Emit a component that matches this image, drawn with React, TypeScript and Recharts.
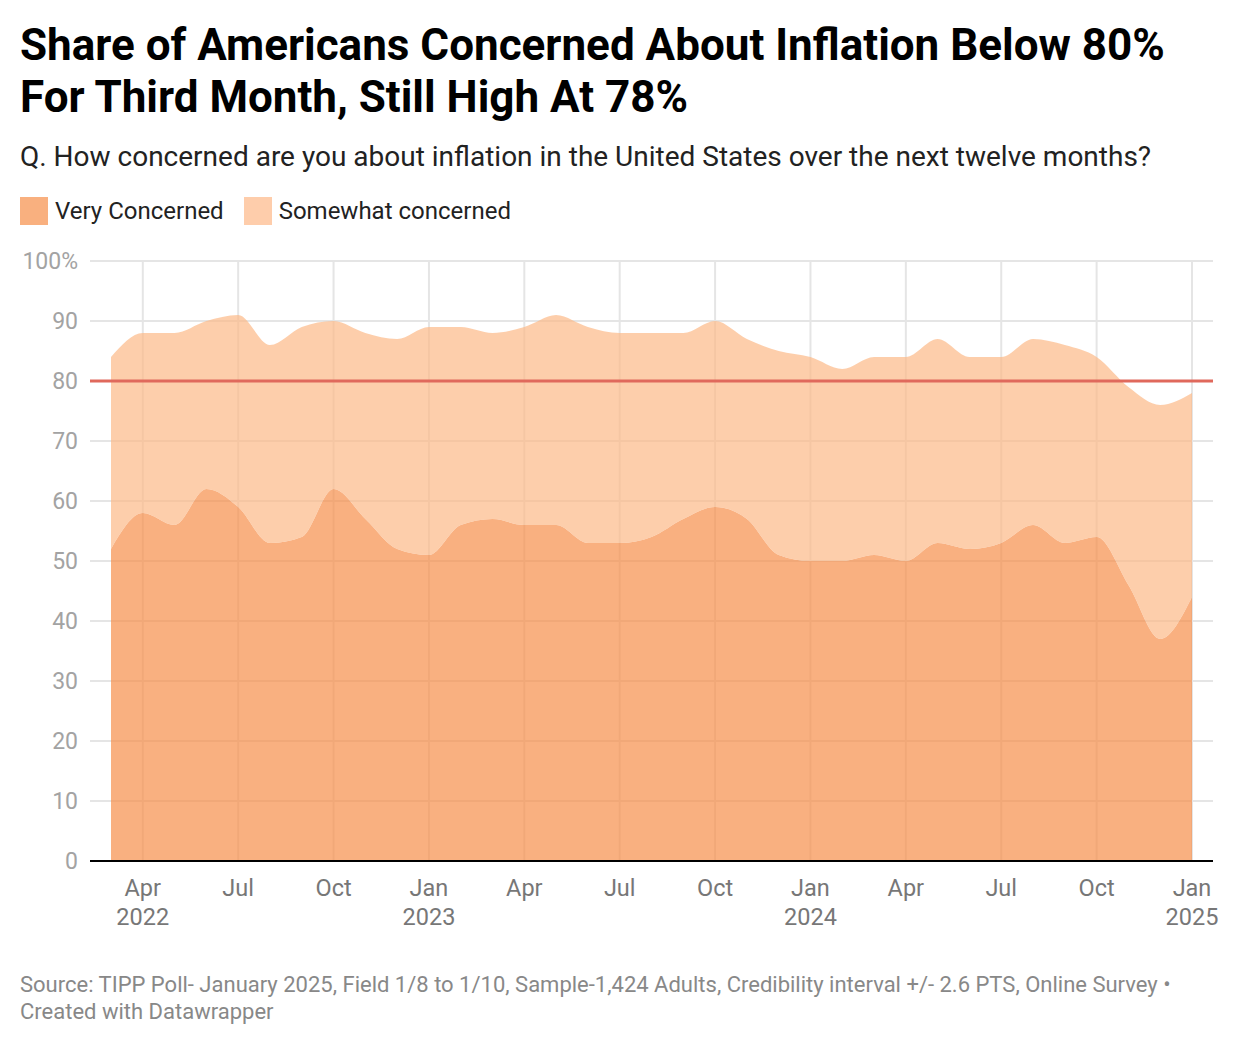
import React from "react";
import {
  AreaChart,
  Area,
  XAxis,
  YAxis,
  CartesianGrid,
  ReferenceLine,
} from "recharts";

const months = [
  "Mar 2022", "Apr 2022", "May 2022", "Jun 2022", "Jul 2022", "Aug 2022", "Sep 2022", "Oct 2022", "Nov 2022", "Dec 2022",
  "Jan 2023", "Feb 2023", "Mar 2023", "Apr 2023", "May 2023", "Jun 2023", "Jul 2023", "Aug 2023", "Sep 2023", "Oct 2023", "Nov 2023", "Dec 2023",
  "Jan 2024", "Feb 2024", "Mar 2024", "Apr 2024", "May 2024", "Jun 2024", "Jul 2024", "Aug 2024", "Sep 2024", "Oct 2024", "Nov 2024", "Dec 2024",
  "Jan 2025",
];

const veryConcerned = [
  52, 58, 56, 62, 59, 53, 54, 62, 57, 52,
  51, 56, 57, 56, 56, 53, 53, 54, 57, 59, 57, 51,
  50, 50, 51, 50, 53, 52, 53, 56, 53, 54, 46, 37,
  44,
];

const somewhatConcerned = [
  32, 30, 32, 28, 32, 33, 35, 28, 31, 35,
  38, 33, 31, 33, 35, 36, 35, 34, 31, 31, 30, 34,
  34, 32, 33, 34, 34, 32, 31, 31, 33, 30, 33, 39,
  34,
];

const xTickIndex = [1, 4, 7, 10, 13, 16, 19, 22, 25, 28, 31, 34];
const xTickMonth = ["Apr", "Jul", "Oct", "Jan", "Apr", "Jul", "Oct", "Jan", "Apr", "Jul", "Oct", "Jan"];
const xTickYear = ["2022", "", "", "2023", "", "", "", "2024", "", "", "", "2025"];
const yTicks = [0, 10, 20, 30, 40, 50, 60, 70, 80, 90, 100];

const threshold = 80;

const data = months.map((m, i) => ({
  i,
  month: m,
  very: veryConcerned[i],
  somewhat: somewhatConcerned[i],
}));

const FONT = "Roboto, 'Noto Sans', sans-serif";

const XTick = (props: any) => {
  const { x, y, payload } = props;
  const k = xTickIndex.indexOf(payload.value);
  return (
    <g>
      <text x={x} y={y + 35} textAnchor="middle" fill="#777" fontSize={23.5} fontFamily={FONT}>
        {xTickMonth[k]}
      </text>
      {xTickYear[k] ? (
        <text x={x} y={y + 64} textAnchor="middle" fill="#777" fontSize={23.5} fontFamily={FONT}>
          {xTickYear[k]}
        </text>
      ) : null}
    </g>
  );
};

const YTick = (props: any) => {
  const { x, y, payload } = props;
  return (
    <text x={x - 12} y={y} dy="0.35em" textAnchor="end" fill="#a3a3a3" fontSize={23} fontFamily={FONT}>
      {payload.value === 100 ? "100%" : String(payload.value)}
    </text>
  );
};

export default function App() {
  return (
    <div
      style={{
        position: "absolute",
        left: 0,
        top: 0,
        width: 1240,
        height: 1046,
        background: "#fff",
        fontFamily: FONT,
        color: "#1d1d1d",
      }}
    >
      <div
        style={{
          position: "absolute",
          left: 20,
          top: 19,
          fontSize: 44,
          fontWeight: 700,
          lineHeight: "52px",
          color: "#000",
          width: 1220,
          whiteSpace: "nowrap",
        }}
      >
        Share of Americans Concerned About Inflation Below 80%
        <br />
        For Third Month, Still High At 78%
      </div>
      <div style={{ position: "absolute", left: 20, top: 140, fontSize: 28, lineHeight: "34px", color: "#222", whiteSpace: "nowrap" }}>
        Q. How concerned are you about inflation in the United States over the next twelve months?
      </div>
      <div style={{ position: "absolute", left: 20, top: 197, display: "flex", alignItems: "center", fontSize: 24, color: "#222" }}>
        <span style={{ display: "inline-block", width: 28, height: 28, background: "#F9B07F", marginRight: 7 }} />
        <span style={{ marginRight: 20, lineHeight: "28px" }}>Very Concerned</span>
        <span style={{ display: "inline-block", width: 28, height: 28, background: "#FECDAB", marginRight: 7 }} />
        <span style={{ lineHeight: "28px" }}>Somewhat concerned</span>
      </div>

      <div style={{ position: "absolute", left: 0, top: 240 }}>
        <AreaChart
          width={1240}
          height={720}
          data={data}
          margin={{ top: 21, right: 27, bottom: 19, left: 0 }}
        >
          <CartesianGrid
            stroke="#e5e5e5"
            strokeWidth={2}
            vertical={true}
            horizontal={true}
            syncWithTicks={true}
          />
          <XAxis
            dataKey="i"
            type="number"
            domain={[0, 34]}
            ticks={xTickIndex}
            padding={{ left: 21, right: 21 }}
            tick={<XTick />}
            tickLine={false}
            tickSize={0}
            tickMargin={0}
            axisLine={{ stroke: "#000", strokeWidth: 2 }}
            height={80}
            interval={0}
          />
          <YAxis
            type="number"
            domain={[0, 100]}
            ticks={yTicks}
            tick={<YTick />}
            tickLine={false}
            tickSize={0}
            tickMargin={0}
            axisLine={false}
            width={90}
            interval={0}
          />
          <Area
            type="monotone"
            dataKey="very"
            stackId="a"
            stroke="none"
            fill="rgb(246,142,74)"
            fillOpacity={0.7}
            isAnimationActive={false}
          />
          <Area
            type="monotone"
            dataKey="somewhat"
            stackId="a"
            stroke="none"
            fill="rgb(252,185,136)"
            fillOpacity={0.7}
            isAnimationActive={false}
          />
          <ReferenceLine y={threshold} stroke="#e0695c" strokeWidth={3} />
        </AreaChart>
      </div>

      <div
        style={{
          position: "absolute",
          left: 20,
          top: 971,
          fontSize: 22,
          lineHeight: "27px",
          color: "#888",
          width: 1220,
          whiteSpace: "nowrap",
        }}
      >
        Source: TIPP Poll- January 2025, Field 1/8 to 1/10, Sample-1,424 Adults, Credibility interval +/- 2.6 PTS, Online Survey •
        <br />
        Created with Datawrapper
      </div>
    </div>
  );
}
